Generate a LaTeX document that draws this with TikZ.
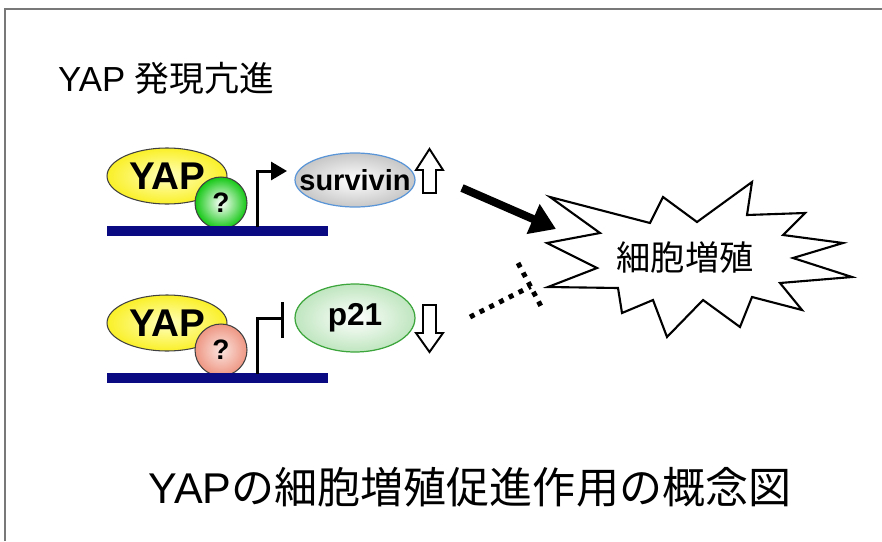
\documentclass[tikz,border=0pt]{standalone}
\usepackage{fontspec}
\setmainfont{Liberation Sans}
\newfontfamily\jp{Noto Sans CJK JP}
\usetikzlibrary{shapes.geometric,arrows.meta}

\definecolor{yapyellow}{RGB}{250,240,40}
\definecolor{yaplight}{RGB}{255,255,190}
\definecolor{qgreen}{RGB}{20,200,20}
\definecolor{qpink}{RGB}{238,150,130}
\definecolor{dnablue}{RGB}{10,10,130}
\definecolor{svborder}{RGB}{90,150,215}
\definecolor{pborder}{RGB}{60,165,60}
\definecolor{framegray}{RGB}{120,120,120}

\tikzset{
  yap/.style={ellipse, draw=black!75, line width=0.6pt, inner sep=0pt,
    inner color=yaplight, outer color=yapyellow,
    minimum width=2.4cm, minimum height=1.12cm,
    font=\fontsize{22}{22}\selectfont\bfseries},
  cofactor/.style={circle, draw=black!75, line width=0.6pt, inner sep=0pt,
    minimum size=1.04cm, font=\fontsize{16}{16}\selectfont\bfseries},
  gene/.style={ellipse, line width=0.7pt, inner ysep=0pt, minimum width=2.4cm},
  dna/.style={dnablue, line width=0.2cm},
  promoter/.style={line width=0.06cm},
  hollow/.style={draw, fill=white, line width=1.1pt, line join=miter},
  burst/.style={draw, fill=white, line width=1.2pt, line join=miter},
}

\begin{document}
\begin{tikzpicture}[x=0.02cm, y=-0.02cm]
\useasboundingbox (0,0) rectangle (882,541);
% frame
\draw[framegray, line width=1.2pt] (5,541) -- (5,9) -- (882,9);

% title
\node[anchor=west, font=\fontsize{19.8}{19.8}\selectfont] (title) at (52,78) {YAP {\jp 発現亢進}};

% upper row: survivin
\node[yap] (yap1) at (167,176) {YAP};
\node[cofactor, inner color=white, outer color=qgreen] (q1) at (221,203) {?};
\draw[dna] (107,231) -- (328,231);
\draw[promoter, -{Triangle[length=0.32cm, width=0.36cm]}] (257,227) -- (257,171) -- (287,171);
\node[gene, draw=svborder, inner color=white, outer color=black!22, inner xsep=-0.3cm,
  minimum height=1.08cm, font=\fontsize{16.5}{16.5}\selectfont\bfseries] (survivin) at (355,180) {survivin};
\draw[hollow] (416,170) -- (429.5,149) -- (443,170) -- (436,170) -- (436,193)
  -- (423,193) -- (423,170) -- cycle;

% lower row: p21
\node[yap] (yap2) at (167,323) {YAP};
\node[cofactor, inner color=qpink!25, outer color=qpink] (q2) at (221,350) {?};
\draw[dna] (107,378) -- (328,378);
\draw[promoter] (257,374) -- (257,318) -- (282,318);
\draw[promoter] (282,302) -- (282,338);
\node[gene, draw=pborder, inner color=white, outer color=green!60!black!25,
  minimum height=1.36cm, font=\fontsize{18}{18}\selectfont\bfseries] (p21) at (355,318) {p21};
\draw[hollow] (423,305) -- (436,305) -- (436,333) -- (443,333) -- (429.5,352)
  -- (416,333) -- (423,333) -- cycle;

% cell proliferation
\draw[burst] (550,197) -- (650,223) -- (663,197) -- (697,222) -- (752,182)
  -- (747,215) -- (805,213) -- (783,235) -- (843,243) -- (793,258)
  -- (852,277) -- (780,283) -- (802,310) -- (752,297) -- (740,327)
  -- (703,300) -- (667,337) -- (653,300) -- (622,313) -- (618,288)
  -- (548,287) -- (597,268) -- (547,243) -- (600,233) -- cycle;
\node[font=\fontsize{19.5}{19.5}\selectfont\jp] (prolif) at (685,258) {細胞増殖};

% connectors
\coordinate (svout) at (462,188);
\coordinate (burstin) at (556,229);
\draw[line width=0.16cm, -{Triangle[length=0.5cm, width=0.62cm]}] (svout) -- (burstin);
\coordinate (pout) at (470,317);
\coordinate (bartop) at (518,263);
\coordinate (barbot) at (543,310);
\coordinate (barmid) at (530.5,286.5);
\draw[line width=2.8pt, dash pattern=on 2.8pt off 3.4pt] (pout) -- (barmid);
\draw[line width=2.8pt, dash pattern=on 2.8pt off 3.4pt] (bartop) -- (barbot);

% caption
\node[font=\fontsize{24.5}{24.5}\selectfont] (caption) at (470,487) {YAP{\jp の細胞増殖促進作用の概念図}};
\end{tikzpicture}
\end{document}
